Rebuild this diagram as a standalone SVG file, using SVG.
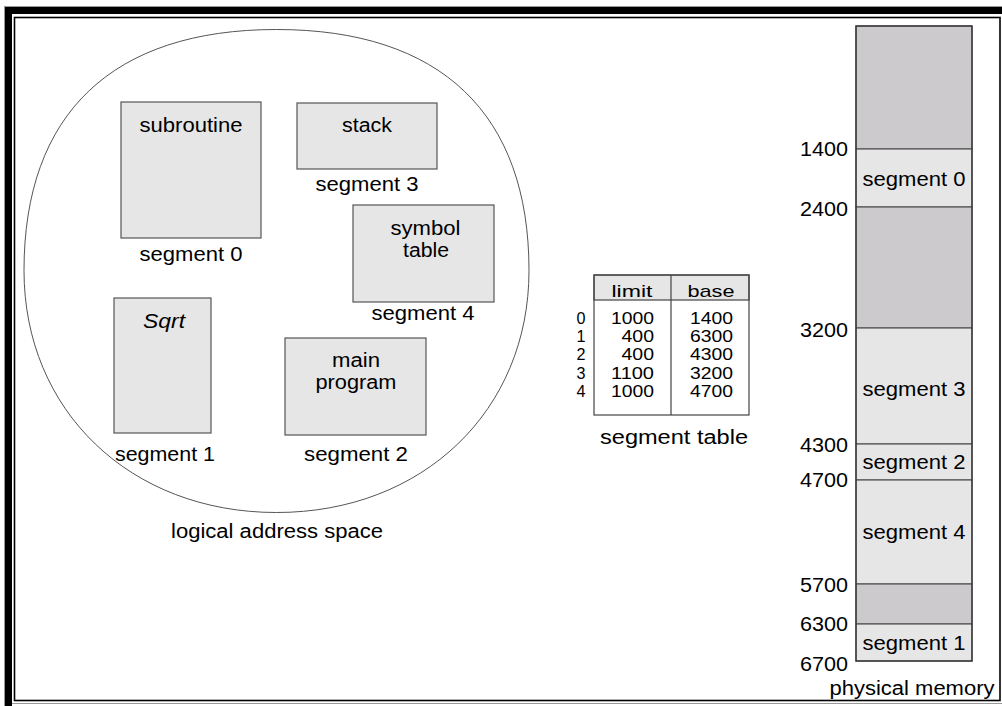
<svg xmlns="http://www.w3.org/2000/svg" width="1002" height="706" viewBox="0 0 1002 706">
<style>
text{font-family:"Liberation Sans",Arial,Helvetica,sans-serif;fill:#000;font-size:19.5px}
.box{fill:#e6e6e6;stroke:#555;stroke-width:1.2}
.hole{fill:#cccacd;stroke:#555;stroke-width:1.2}
.ln{fill:none;stroke:#444;stroke-width:1.2}
.m{text-anchor:middle}
.e{text-anchor:end}
.t{font-size:17px}
</style>
<rect width="1002" height="706" fill="#fff"/>
<g id="frame">
<line x1="4.5" y1="6" x2="4.5" y2="706" stroke="#999" stroke-width="1"/>
<line x1="4" y1="6.5" x2="1002" y2="6.5" stroke="#999" stroke-width="1"/>
<rect x="5" y="7" width="7" height="699" fill="#000"/>
<rect x="5" y="7" width="997" height="7" fill="#000"/>
<rect x="14.5" y="17.5" width="985.5" height="683" fill="none" stroke="#000" stroke-width="1.6"/>
<line x1="12" y1="703.5" x2="1002" y2="703.5" stroke="#999" stroke-width="1"/>
</g>
<g id="logical-address-space">
<path d="M24,270.5 C24,113.5 112.4,29.5 276.5,29.5 C440.6,29.5 529,113.5 529,270.5 C529,410.6 423,512.5 276.5,512.5 C130,512.5 24,410.6 24,270.5 Z" fill="none" stroke="#555" stroke-width="1"/>
<text class="m" x="277" y="538" textLength="212" lengthAdjust="spacingAndGlyphs">logical address space</text>
</g>
<g id="seg0-subroutine">
<rect class="box" x="121" y="102" width="140" height="136"/>
<text class="m" x="191" y="131.5" textLength="103" lengthAdjust="spacingAndGlyphs">subroutine</text>
<text class="m" x="191" y="261" textLength="103" lengthAdjust="spacingAndGlyphs">segment 0</text>
</g>
<g id="seg3-stack">
<rect class="box" x="297" y="103" width="140" height="66"/>
<text class="m" x="367" y="131.5" textLength="50" lengthAdjust="spacingAndGlyphs">stack</text>
<text class="m" x="367" y="190.5" textLength="103" lengthAdjust="spacingAndGlyphs">segment 3</text>
</g>
<g id="seg4-symbol-table">
<rect class="box" x="353" y="205" width="141" height="97"/>
<text class="m" x="425.5" y="234.5" textLength="70" lengthAdjust="spacingAndGlyphs">symbol</text>
<text class="m" x="426" y="256.5" textLength="46" lengthAdjust="spacingAndGlyphs">table</text>
<text class="m" x="423" y="319.5" textLength="103" lengthAdjust="spacingAndGlyphs">segment 4</text>
</g>
<g id="seg1-sqrt">
<rect class="box" x="114" y="298" width="97" height="135"/>
<text class="m" x="164" y="327.5" font-style="italic" textLength="42" lengthAdjust="spacingAndGlyphs">Sqrt</text>
<text class="m" x="165" y="460.5" textLength="100" lengthAdjust="spacingAndGlyphs">segment 1</text>
</g>
<g id="seg2-main-program">
<rect class="box" x="285" y="338" width="141" height="97"/>
<text class="m" x="356" y="366.5" textLength="48" lengthAdjust="spacingAndGlyphs">main</text>
<text class="m" x="356" y="388.5" textLength="81" lengthAdjust="spacingAndGlyphs">program</text>
<text class="m" x="356" y="460.5" textLength="104" lengthAdjust="spacingAndGlyphs">segment 2</text>
</g>
<g id="segment-table">
<rect x="594" y="275" width="155" height="25" fill="#e6e6e6" stroke="#444" stroke-width="1.2"/>
<rect class="ln" x="594" y="275" width="155" height="140"/>
<line class="ln" x1="671" y1="275" x2="671" y2="415"/>
<text class="m t" x="632" y="296.5" textLength="41" lengthAdjust="spacingAndGlyphs">limit</text>
<text class="m t" x="711" y="296.5" textLength="47" lengthAdjust="spacingAndGlyphs">base</text>
<text class="m t" x="581" y="324" textLength="9" lengthAdjust="spacingAndGlyphs">0</text>
<text class="e t" x="654" y="324" textLength="43" lengthAdjust="spacingAndGlyphs">1000</text>
<text class="e t" x="733" y="324" textLength="43" lengthAdjust="spacingAndGlyphs">1400</text>
<text class="m t" x="581" y="342" textLength="9" lengthAdjust="spacingAndGlyphs">1</text>
<text class="e t" x="654" y="342" textLength="32.5" lengthAdjust="spacingAndGlyphs">400</text>
<text class="e t" x="733" y="342" textLength="43" lengthAdjust="spacingAndGlyphs">6300</text>
<text class="m t" x="581" y="360" textLength="9" lengthAdjust="spacingAndGlyphs">2</text>
<text class="e t" x="654" y="360" textLength="32.5" lengthAdjust="spacingAndGlyphs">400</text>
<text class="e t" x="733" y="360" textLength="43" lengthAdjust="spacingAndGlyphs">4300</text>
<text class="m t" x="581" y="378.5" textLength="9" lengthAdjust="spacingAndGlyphs">3</text>
<text class="e t" x="654" y="378.5" textLength="43" lengthAdjust="spacingAndGlyphs">1100</text>
<text class="e t" x="733" y="378.5" textLength="43" lengthAdjust="spacingAndGlyphs">3200</text>
<text class="m t" x="581" y="396.5" textLength="9" lengthAdjust="spacingAndGlyphs">4</text>
<text class="e t" x="654" y="396.5" textLength="43" lengthAdjust="spacingAndGlyphs">1000</text>
<text class="e t" x="733" y="396.5" textLength="43" lengthAdjust="spacingAndGlyphs">4700</text>
<text class="m" x="674" y="443.5" textLength="148" lengthAdjust="spacingAndGlyphs">segment table</text>
</g>
<g id="physical-memory">
<rect class="hole" x="856" y="26" width="116" height="123"/>
<rect class="box" x="856" y="149" width="116" height="58"/>
<rect class="hole" x="856" y="207" width="116" height="121"/>
<rect class="box" x="856" y="328" width="116" height="116"/>
<rect class="box" x="856" y="444" width="116" height="36"/>
<rect class="box" x="856" y="480" width="116" height="104"/>
<rect class="hole" x="856" y="584" width="116" height="40"/>
<rect class="box" x="856" y="624" width="116" height="37"/>
<rect x="856" y="26" width="116" height="635" fill="none" stroke="#333" stroke-width="1.3"/>
<text class="m" x="914" y="185.5" textLength="103" lengthAdjust="spacingAndGlyphs">segment 0</text>
<text class="m" x="914" y="396" textLength="103" lengthAdjust="spacingAndGlyphs">segment 3</text>
<text class="m" x="914" y="468.5" textLength="103" lengthAdjust="spacingAndGlyphs">segment 2</text>
<text class="m" x="914" y="538.5" textLength="103" lengthAdjust="spacingAndGlyphs">segment 4</text>
<text class="m" x="914" y="650" textLength="103" lengthAdjust="spacingAndGlyphs">segment 1</text>
<text class="e" x="848" y="156" textLength="48" lengthAdjust="spacingAndGlyphs">1400</text>
<text class="e" x="848" y="216" textLength="48" lengthAdjust="spacingAndGlyphs">2400</text>
<text class="e" x="848" y="337" textLength="48" lengthAdjust="spacingAndGlyphs">3200</text>
<text class="e" x="848" y="452" textLength="48" lengthAdjust="spacingAndGlyphs">4300</text>
<text class="e" x="848" y="487" textLength="48" lengthAdjust="spacingAndGlyphs">4700</text>
<text class="e" x="848" y="592" textLength="48" lengthAdjust="spacingAndGlyphs">5700</text>
<text class="e" x="848" y="631" textLength="48" lengthAdjust="spacingAndGlyphs">6300</text>
<text class="e" x="848" y="671" textLength="48" lengthAdjust="spacingAndGlyphs">6700</text>
<text class="m" x="912" y="695" textLength="165" lengthAdjust="spacingAndGlyphs">physical memory</text>
</g>
</svg>
